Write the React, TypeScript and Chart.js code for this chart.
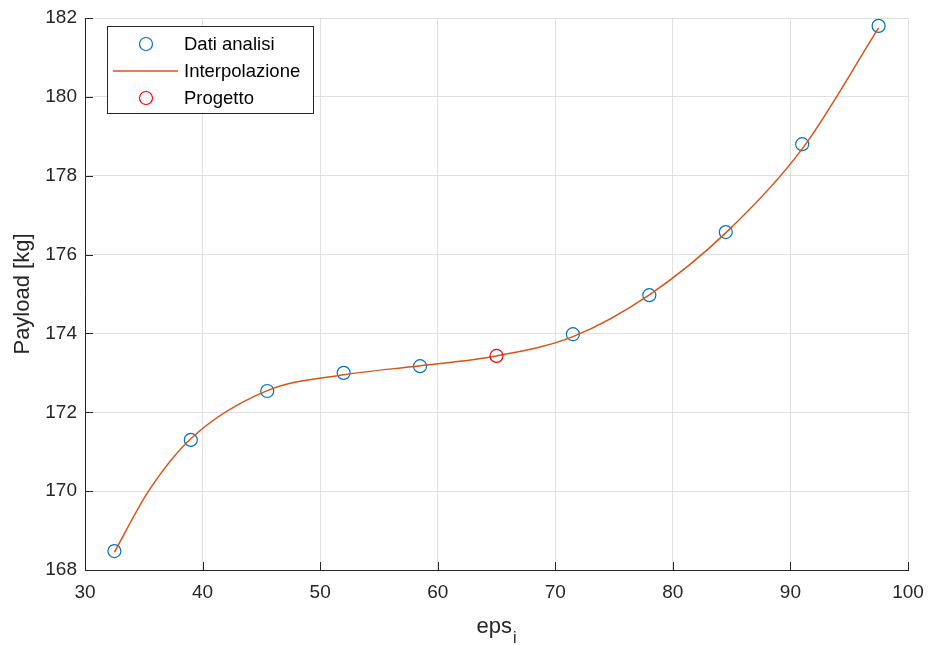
import React, { useEffect, useRef } from "react";
import { Chart, registerables } from "chart.js";

Chart.register(...registerables);

const epsData = [32.5, 39, 45.5, 52, 58.5, 71.5, 78, 84.5, 91, 97.5];
const payloadData = [168.48, 171.3, 172.54, 173.0, 173.17, 173.98, 174.97, 176.57, 178.8, 181.8];
const projectEps = [65];
const projectPayload = [173.43];
const curveEps = [32.5, 35.4, 39, 45.5, 52, 58.5, 65, 71.5, 78, 84.5, 91, 97.5];
const curvePayload = [168.45, 170.0, 171.33, 172.55, 172.95, 173.18, 173.43, 173.92, 174.98, 176.55, 178.68, 181.75];
const xTicks = [30, 40, 50, 60, 70, 80, 90, 100];
const yTicks = [168, 170, 172, 174, 176, 178, 180, 182];

const FONT = "'Liberation Sans', Arial, Helvetica, sans-serif";
const TXT = "#262626";
const BLUE = "#0072BD";
const ORANGE = "#D95319";
const RED = "#FF0000";

const toPts = (xs: number[], ys: number[]) => xs.map((x, i) => ({ x, y: ys[i] }));

const decorPlugin = {
  id: "decor",
  afterDraw(chart: any) {
    const ctx = chart.ctx;
    const xs = chart.scales.x;
    const ys = chart.scales.y;
    const area = chart.chartArea;
    ctx.save();
    // inward ticks
    ctx.strokeStyle = TXT;
    ctx.lineWidth = 1;
    ctx.beginPath();
    xTicks.forEach((v) => {
      const px = Math.round(xs.getPixelForValue(v)) + 0.5;
      ctx.moveTo(px, area.bottom);
      ctx.lineTo(px, area.bottom - 8);
    });
    yTicks.forEach((v) => {
      const py = Math.round(ys.getPixelForValue(v)) + 0.5;
      ctx.moveTo(area.left, py);
      ctx.lineTo(area.left + 8, py);
    });
    ctx.stroke();

    // x axis title with subscript
    ctx.fillStyle = TXT;
    ctx.textBaseline = "alphabetic";
    ctx.font = `22px ${FONT}`;
    const main = "eps";
    const wMain = ctx.measureText(main).width;
    ctx.font = `16px ${FONT}`;
    const wSub = ctx.measureText("i").width;
    const cx = (area.left + area.right) / 2;
    const start = cx - (wMain + wSub + 1) / 2;
    ctx.font = `22px ${FONT}`;
    ctx.textAlign = "left";
    ctx.fillText(main, start, 633);
    ctx.font = `16px ${FONT}`;
    ctx.fillText("i", start + wMain + 1, 643);

    // legend
    const lx = 107.5, ly = 26.5, lw = 206, lh = 87;
    ctx.fillStyle = "#ffffff";
    ctx.fillRect(lx, ly, lw, lh);
    ctx.strokeStyle = "#262626";
    ctx.lineWidth = 1;
    ctx.strokeRect(lx, ly, lw, lh);
    const rows = [44, 71, 98];
    chart.data.datasets.forEach((ds: any, i: number) => {
      const y = rows[i];
      if (ds.showLine) {
        ctx.strokeStyle = ds.borderColor;
        ctx.lineWidth = 1.5;
        ctx.beginPath();
        ctx.moveTo(113, y);
        ctx.lineTo(178, y);
        ctx.stroke();
      } else {
        ctx.strokeStyle = ds.pointBorderColor;
        ctx.lineWidth = 1.2;
        ctx.beginPath();
        ctx.arc(146, y, 6.5, 0, Math.PI * 2);
        ctx.stroke();
      }
      ctx.fillStyle = "#000000";
      ctx.font = `18.5px ${FONT}`;
      ctx.textBaseline = "middle";
      ctx.fillText(ds.label, 184, y + 1);
    });
    ctx.restore();
  },
};

export default function App() {
  const ref = useRef<HTMLCanvasElement | null>(null);
  useEffect(() => {
    if (!ref.current) return;
    const chart = new Chart(ref.current, {
      type: "scatter",
      data: {
        datasets: [
          {
            label: "Dati analisi",
            data: toPts(epsData, payloadData),
            showLine: false,
            pointStyle: "circle",
            pointRadius: 6.5,
            pointBorderWidth: 1.2,
            pointBorderColor: BLUE,
            pointBackgroundColor: "rgba(0,0,0,0)",
            borderColor: BLUE,
            order: 2,
          },
          {
            label: "Interpolazione",
            data: toPts(curveEps, curvePayload),
            showLine: true,
            borderColor: ORANGE,
            borderWidth: 1.5,
            pointRadius: 0,
            cubicInterpolationMode: "monotone",
            order: 1,
          },
          {
            label: "Progetto",
            data: toPts(projectEps, projectPayload),
            showLine: false,
            pointRadius: 6.5,
            pointBorderWidth: 1.2,
            pointBorderColor: RED,
            pointBackgroundColor: "rgba(0,0,0,0)",
            borderColor: RED,
            order: 0,
          },
        ],
      },
      options: {
        animation: false,
        responsive: false,
        maintainAspectRatio: false,
        layout: { padding: { top: 18, right: 23, left: 0, bottom: 0 } },
        plugins: { legend: { display: false }, tooltip: { enabled: false } },
        scales: {
          x: {
            type: "linear",
            min: 30,
            max: 100,
            afterFit: (s: any) => { s.height = 75; s.paddingRight = 0; s.paddingLeft = 0; },
            afterBuildTicks: (s: any) => { s.ticks = xTicks.map((v) => ({ value: v })); },
            grid: { color: "#E0E0E0", lineWidth: 1, drawTicks: false },
            border: { display: true, color: TXT, width: 1 },
            ticks: { color: TXT, font: { family: FONT, size: 19 }, padding: 11, maxRotation: 0 },
            title: { display: false },
          },
          y: {
            type: "linear",
            min: 168,
            max: 182,
            afterFit: (s: any) => { s.width = 85; s.paddingTop = 0; s.paddingBottom = 0; },
            afterBuildTicks: (s: any) => { s.ticks = yTicks.map((v) => ({ value: v })); },
            grid: { color: "#E0E0E0", lineWidth: 1, drawTicks: false },
            border: { display: true, color: TXT, width: 1 },
            ticks: { color: TXT, font: { family: FONT, size: 19 }, padding: 8 },
            title: {
              display: true,
              text: "Payload [kg]",
              color: TXT,
              font: { family: FONT, size: 22 },
              padding: { top: 10, bottom: 0 },
            },
          },
        },
      },
      plugins: [decorPlugin],
    } as any);
    return () => chart.destroy();
  }, []);
  return (
    <div style={{ position: "absolute", left: 0, top: 0, width: 931, height: 645, background: "#fff" }}>
      <canvas ref={ref} width={931} height={645} style={{ display: "block", width: 931, height: 645 }} />
    </div>
  );
}
